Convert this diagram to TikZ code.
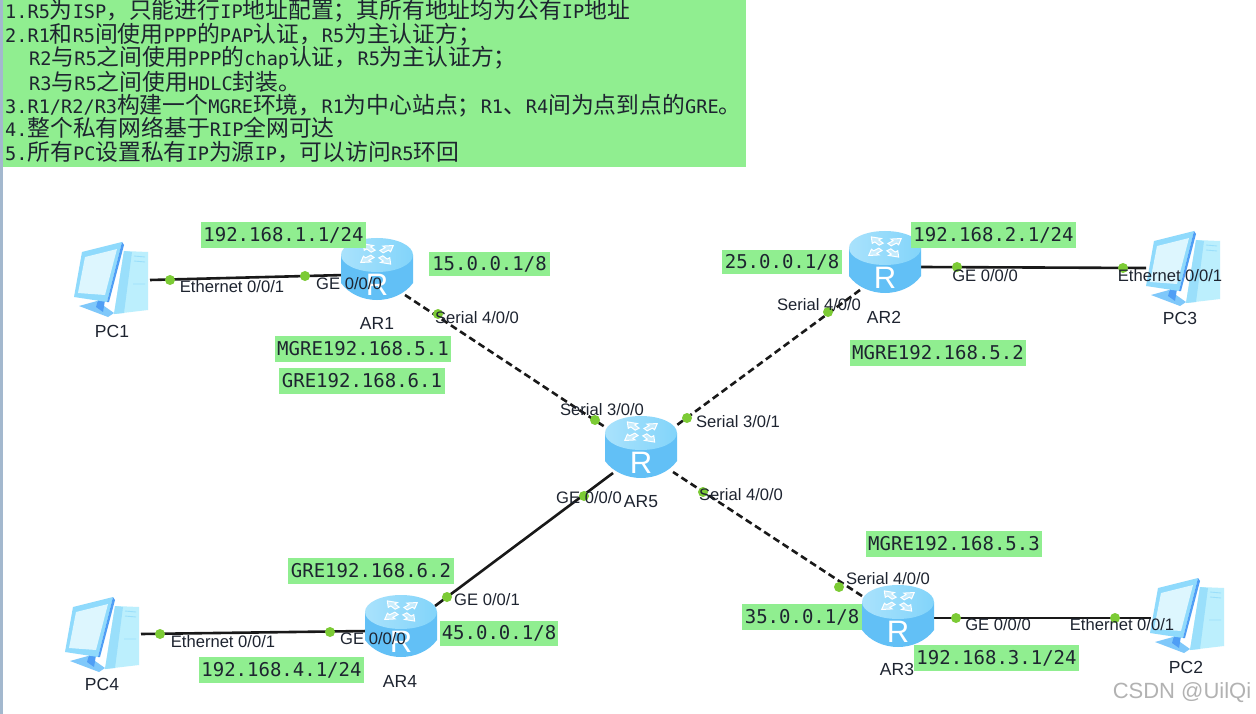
\documentclass[tikz,border=0pt]{standalone}
\usepackage{fontspec}
\setmainfont{Liberation Sans}
\newfontfamily\cjk{Noto Sans CJK SC}
\newfontfamily\lat{DejaVu Sans Mono}
\newcommand{\C}[1]{{\cjk\fontsize{22.8}{24}\selectfont #1}}
\definecolor{note}{HTML}{90EE90}
\definecolor{ink}{HTML}{1E2430}
\definecolor{dot}{HTML}{7CCB35}
\definecolor{rside}{HTML}{62C0F6}
\definecolor{rmid}{HTML}{A2E6FE}
\definecolor{rtopa}{HTML}{A9E2FC}
\definecolor{rtopb}{HTML}{82D4FA}
\definecolor{pcframe}{HTML}{8FDAFC}
\definecolor{pcedge}{HTML}{4F9EF5}
\definecolor{pcscreen}{HTML}{DDF6FE}
\definecolor{pctower}{HTML}{BCEFFD}
\definecolor{pcside}{HTML}{9ADFFB}
\definecolor{pcbase}{HTML}{7FC8FA}
\definecolor{edgeline}{HTML}{A3B8CE}
\tikzset{
  x=1pt,y=-1pt,
  addr/.style={fill=note,inner sep=0,font=\lat\fontsize{19}{22}\selectfont,text=ink},
  port/.style={font=\fontsize{16.6}{18}\selectfont,text=ink,inner sep=0},
  devname/.style={font=\fontsize{17.5}{20}\selectfont,text=ink,inner sep=0},
  noteline/.style={anchor=west,inner sep=0,text=ink,font=\lat\fontsize{18.6}{22}\selectfont},
  wire/.style={line width=2.6pt,black!90},
  dashwire/.style={wire,dash pattern=on 7pt off 4pt},
  portdot/.style={circle,fill=dot,inner sep=0,minimum size=10pt},
  devbox/.style={inner sep=0,minimum width=72pt,minimum height=62pt},
  router/.pic={
    \path[left color=rside,middle color=rmid,right color=rside]
      (-36,-14) -- (-36,14) .. controls (-28,25) and (-14,31) .. (0,31)
      .. controls (14,31) and (28,25) .. (36,14) -- (36,-14) -- cycle;
    \path[left color=rtopa,right color=rtopb] (0,-14) ellipse[x radius=36,y radius=17];
    \begin{scope}[shift={(0,-15)},yscale=.62]
    \foreach \a in {40,130,220,310}{
      \draw[white,line width=1pt,fill=white,fill opacity=.45,rotate=\a,scale=.85]
        (7,-3) -- (15,-3) -- (15,-7) -- (25,0) -- (15,7) -- (15,3) -- (7,3) -- cycle;
    }
    \end{scope}
    \node[white,inner sep=0,font=\fontsize{31}{31}\selectfont] at (0,16) {R};
  },
  pcicon/.pic={
    \fill[pctower] (13,-27) -- (37,-26) -- (37,32) -- (3,36) -- cycle;
    \fill[pcside] (13,-27) -- (21,-26) -- (13,35) -- (3,36) -- cycle;
    \draw[pcside,line width=.9pt] (23,-22) -- (34,-21) (23,-17) -- (34,-16) (22,6) -- (34,6);
    \fill[pcbase] (-32,28) -- (-14,23) -- (3,35) -- (-3,39) -- cycle;
    \fill[pcedge] (-13,22) -- (-6,22) -- (-8,34) -- (-15,29) -- cycle;
    \fill[pcframe] (-37,19) -- (-29,-26) -- (11,-36) -- (-4,24) -- cycle;
    \fill[pcedge] (11,-36) -- (13,-33) -- (-2,24) -- (-4,24) -- cycle;
    \fill[pcscreen] (-33,15) -- (-26,-21) -- (6,-29) -- (-6,17) -- cycle;
  }
}
\begin{document}
\begin{tikzpicture}
\useasboundingbox (0,0) rectangle (1256,714);
\fill[white] (0,0) rectangle (1256,714);
\draw[edgeline,line width=3pt] (1,0) -- (1,714);
% note
\node[fill=note,inner sep=0,minimum width=743pt,minimum height=167pt,anchor=north west] (note) at (3,0) {};
\node[noteline] (n1) at (5,11) {1.R5\C{为}ISP\C{，只能进行}IP\C{地址配置；其所有地址均为公有}IP\C{地址}};
\node[noteline] (n2) at (5,35) {2.R1\C{和}R5\C{间使用}PPP\C{的}PAP\C{认证，}R5\C{为主认证方；}};
\node[noteline] (n3) at (29,58) {R2\C{与}R5\C{之间使用}PPP\C{的}chap\C{认证，}R5\C{为主认证方；}};
\node[noteline] (n4) at (29,82) {R3\C{与}R5\C{之间使用}HDLC\C{封装。}};
\node[noteline] (n5) at (5,106) {3.R1/R2/R3\C{构建一个}MGRE\C{环境，}R1\C{为中心站点；}R1\C{、}R4\C{间为点到点的}GRE\C{。}};
\node[noteline] (n6) at (5,128) {4.\C{整个私有网络基于}RIP\C{全网可达}};
\node[noteline] (n7) at (5,152) {5.\C{所有}PC\C{设置私有}IP\C{为源}IP\C{，可以访问}R5\C{环回}};
% anchors
\node[devbox] (ar1) at (377,269) {};
\node[devbox] (ar2) at (885,262) {};
\node[devbox] (ar3) at (898,616) {};
\node[devbox] (ar4) at (401,626) {};
\node[devbox] (ar5) at (641,447) {};
\node[devbox] (pc1) at (111,278) {};
\node[devbox] (pc3) at (1183,267) {};
\node[devbox] (pc2) at (1187,614) {};
\node[devbox] (pc4) at (102,633) {};
\coordinate (e1a) at (150,280); \coordinate (e1b) at (345,275);
\coordinate (e2a) at (921,267); \coordinate (e2b) at (1146,268);
\coordinate (e3a) at (934,618); \coordinate (e3b) at (1151,618);
\coordinate (e4a) at (141,634); \coordinate (e4b) at (368,631);
\coordinate (s1a) at (405,295); \coordinate (s1b) at (605,427);
\coordinate (s2a) at (860,290); \coordinate (s2b) at (677,425);
\coordinate (s3a) at (862,596); \coordinate (s3b) at (673,472);
\coordinate (s4a) at (435,606); \coordinate (s4b) at (613,473);
% connectors
\draw[wire] (e1a) -- (e1b);
\draw[wire] (e2a) -- (e2b);
\draw[wire] (e3a) -- (e3b);
\draw[wire] (e4a) -- (e4b);
\draw[dashwire] (s1a) -- (s1b);
\draw[dashwire] (s2a) -- (s2b);
\draw[dashwire] (s3a) -- (s3b);
\draw[wire] (s4a) -- (s4b);
% icons
\foreach \p in {ar1,ar2,ar3,ar4,ar5} \pic at (\p) {router};
\foreach \p in {pc1,pc2,pc3,pc4} \pic at (\p) {pcicon};
% port dots
\foreach \n/\x/\y in {d1/170/280,d2/305/276,d3/438/314,d4/595/420,d5/687/418,d6/828/312,d7/703/492,d8/839/587,d9/584/496,d10/447/597,d11/330/632,d12/160/634,d13/957/267,d14/1123/268,d15/956/618,d16/1115/618}
  \node[portdot] (\n) at (\x,\y) {};
% addresses
\newcommand{\addr}[6]{\node[addr,minimum width=#4pt,minimum height=#5pt] (#1) at (#2,#3) {#6};}
\addr{a1}{283.5}{235}{165}{26}{192.168.1.1/24}
\addr{a2}{489.5}{264}{121}{24}{15.0.0.1/8}
\addr{a3}{782}{262}{120}{24}{25.0.0.1/8}
\addr{a4}{993.5}{235}{165}{26}{192.168.2.1/24}
\addr{a5}{363}{349}{176}{26}{MGRE192.168.5.1}
\addr{a6}{362}{381}{166}{26}{GRE192.168.6.1}
\addr{a7}{938}{353}{176}{26}{MGRE192.168.5.2}
\addr{a8}{954}{544}{176}{26}{MGRE192.168.5.3}
\addr{a9}{802}{617}{120}{26}{35.0.0.1/8}
\addr{a10}{996.5}{658}{165}{26}{192.168.3.1/24}
\addr{a11}{371}{571}{166}{26}{GRE192.168.6.2}
\addr{a12}{499}{633.5}{118}{25}{45.0.0.1/8}
\addr{a13}{281.5}{670}{165}{26}{192.168.4.1/24}
% ports
\newcommand{\portlab}[4]{\node[port] (#1) at (#2,#3) {#4};}
\portlab{p1}{232}{287}{Ethernet 0/0/1}
\portlab{p2}{349}{284}{GE 0/0/0}
\portlab{p3}{477}{318}{Serial 4/0/0}
\portlab{p4}{602}{410}{Serial 3/0/0}
\portlab{p5}{738}{422}{Serial 3/0/1}
\portlab{p6}{589}{498}{GE 0/0/0}
\portlab{p7}{741}{495}{Serial 4/0/0}
\portlab{p8}{819}{305}{Serial 4/0/0}
\portlab{p9}{985}{276}{GE 0/0/0}
\portlab{p10}{1170}{276}{Ethernet 0/0/1}
\portlab{p11}{888}{579}{Serial 4/0/0}
\portlab{p12}{998}{625}{GE 0/0/0}
\portlab{p13}{1122}{625}{Ethernet 0/0/1}
\portlab{p14}{487}{600}{GE 0/0/1}
\portlab{p15}{373}{639}{GE 0/0/0}
\portlab{p16}{223}{642}{Ethernet 0/0/1}
% device names
\newcommand{\devlab}[4]{\node[devname] (#1) at (#2,#3) {#4};}
\devlab{l1}{377}{323}{AR1}
\devlab{l2}{884}{317}{AR2}
\devlab{l3}{897}{669}{AR3}
\devlab{l4}{400}{681}{AR4}
\devlab{l5}{641}{502}{AR5}
\devlab{l6}{112}{331}{PC1}
\devlab{l7}{1180}{318}{PC3}
\devlab{l8}{1186}{667}{PC2}
\devlab{l9}{102}{684}{PC4}
\node[inner sep=0,text=gray!60,font=\fontsize{22}{24}\selectfont] (wm) at (1182,693) {CSDN @UilQi};
\end{tikzpicture}
\end{document}
